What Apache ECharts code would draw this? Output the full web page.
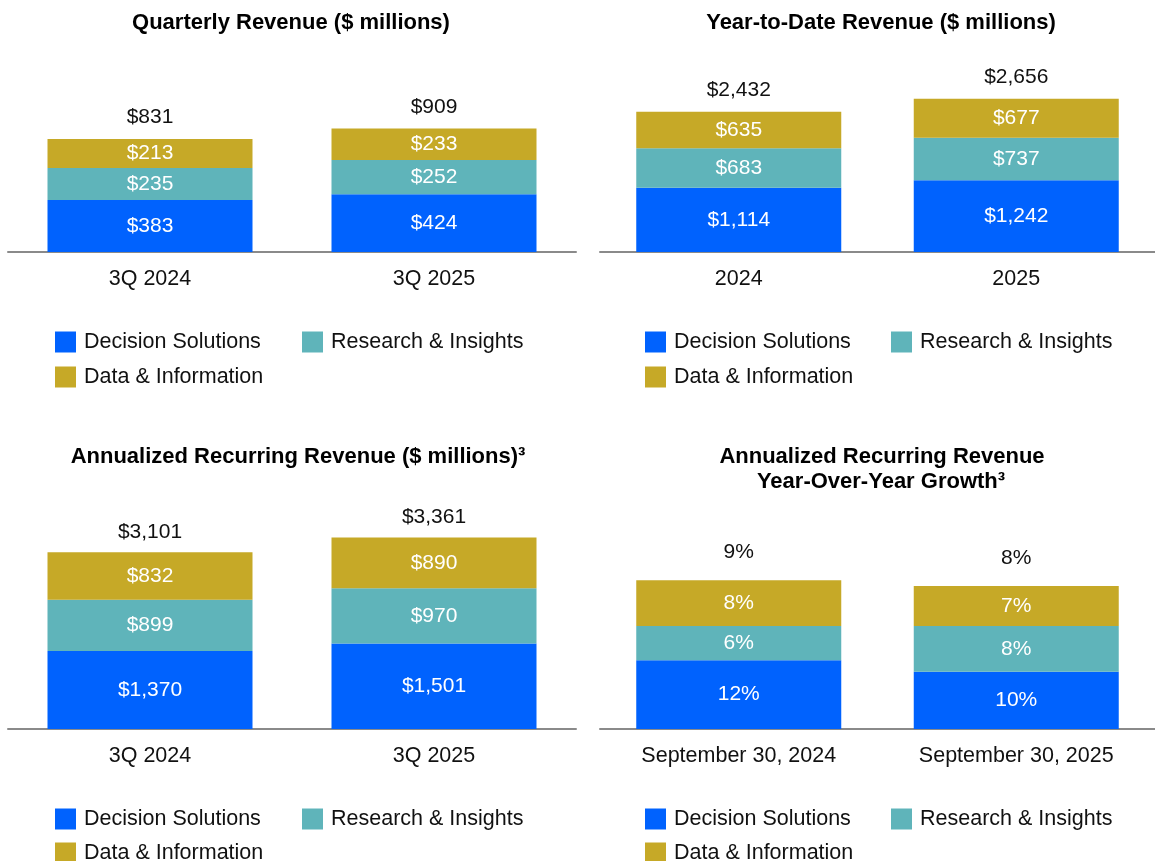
<!DOCTYPE html>
<html>
<head>
<meta charset="utf-8">
<script src="https://cdn.jsdelivr.net/npm/echarts@6/dist/echarts.min.js"></script>
<style>
  html, body { margin: 0; padding: 0; background: #fff; }
  #main { width: 1155px; height: 861px; }
</style>
</head>
<body>
<div id="main"></div>
<script>
// data
var segNames = ['Decision Solutions', 'Research & Insights', 'Data & Information'];

var quarterCats = ['3Q 2024', '3Q 2025'];
var quarterDS = [383, 424];
var quarterRI = [235, 252];
var quarterDI = [213, 233];
var quarterTotal = [831, 909];

var ytdCats = ['2024', '2025'];
var ytdDS = [1114, 1242];
var ytdRI = [683, 737];
var ytdDI = [635, 677];
var ytdTotal = [2432, 2656];

var arrCats = ['3Q 2024', '3Q 2025'];
var arrDS = [1370, 1501];
var arrRI = [899, 970];
var arrDI = [832, 890];
var arrTotal = [3101, 3361];

var growthCats = ['September 30, 2024', 'September 30, 2025'];
var growthDS = [12, 10];
var growthRI = [6, 8];
var growthDI = [8, 7];
var growthTotal = [9, 8];

var colors = ['#0062fe', '#5fb4ba', '#c6a927'];
var font = 'Liberation Sans, Arial, sans-serif';

function money(v) { return '$' + v.toLocaleString('en-US'); }
function pct(v) { return v + '%'; }

var panels = [
  { cats: quarterCats, segs: [quarterDS, quarterRI, quarterDI], total: quarterTotal, fmt: money,
    grid: { left: 8, width: 568, top: 48, height: 204 }, max: 1500, dist: 11,
    legX: [55, 302], legY: [331, 366] },
  { cats: ytdCats, segs: [ytdDS, ytdRI, ytdDI], total: ytdTotal, fmt: money,
    grid: { left: 600, width: 555, top: 50, height: 202 }, max: 3500, dist: 11,
    legX: [645, 891], legY: [331, 366] },
  { cats: arrCats, segs: [arrDS, arrRI, arrDI], total: arrTotal, fmt: money,
    grid: { left: 8, width: 568, top: 501, height: 228 }, max: 4000, dist: 10,
    legX: [55, 302], legY: [808, 842] },
  { cats: growthCats, segs: [growthDS, growthRI, growthDI], total: growthTotal, fmt: pct,
    grid: { left: 600, width: 555, top: 500, height: 229 }, max: 40, dist: 17,
    legX: [645, 891], legY: [808, 842] }
];

var grids = [], xAxes = [], yAxes = [], series = [], legends = [];

panels.forEach(function (p, i) {
  grids.push(p.grid);
  xAxes.push({
    type: 'category', gridIndex: i, data: p.cats,
    axisLine: { lineStyle: { color: '#8a8a8a', width: 2 } },
    axisTick: { show: false },
    axisLabel: { color: '#111', fontSize: 21.5, margin: 16, fontFamily: font }
  });
  yAxes.push({ type: 'value', gridIndex: i, min: 0, max: p.max, show: false });

  p.segs.forEach(function (vals, k) {
    series.push({
      type: 'bar', name: segNames[k], xAxisIndex: i, yAxisIndex: i, stack: 's' + i,
      barWidth: 205, data: vals,
      itemStyle: { color: colors[k] },
      label: {
        show: true, position: 'inside', color: '#fff', fontSize: 21, fontFamily: font,
        formatter: function (d) { return p.fmt(d.value); }
      },
      emphasis: { disabled: true }
    });
  });
  // invisible cap carrying the total label
  series.push({
    type: 'bar', name: 'Total', xAxisIndex: i, yAxisIndex: i, stack: 's' + i,
    barWidth: 205, data: p.total.map(function () { return 0; }),
    itemStyle: { color: 'rgba(0,0,0,0)' },
    label: {
      show: true, position: 'top', distance: p.dist, color: '#111', fontSize: 21, fontFamily: font,
      formatter: function (d) { return p.fmt(p.total[d.dataIndex]); }
    },
    emphasis: { disabled: true }
  });

  var legBase = {
    padding: 0, itemWidth: 21, itemHeight: 21, icon: 'rect', selectedMode: false,
    textStyle: { fontSize: 21.5, color: '#111', fontFamily: font, padding: [0, 0, 0, 3] }
  };
  legends.push(Object.assign({ data: [segNames[0]], left: p.legX[0], top: p.legY[0] }, legBase));
  legends.push(Object.assign({ data: [segNames[1]], left: p.legX[1], top: p.legY[0] }, legBase));
  legends.push(Object.assign({ data: [segNames[2]], left: p.legX[0], top: p.legY[1] }, legBase));
});

function titleText(txt, x, y) {
  return {
    type: 'text', x: x, y: y,
    style: {
      text: txt, fill: '#000', font: 'bold 22px ' + font,
      textAlign: 'center', textVerticalAlign: 'middle'
    }
  };
}

var chart = echarts.init(document.getElementById('main'));
chart.setOption({
  animation: false,
  textStyle: { fontFamily: font },
  grid: grids,
  xAxis: xAxes,
  yAxis: yAxes,
  legend: legends,
  series: series,
  graphic: [
    titleText('Quarterly Revenue ($ millions)', 291, 23),
    titleText('Year-to-Date Revenue ($ millions)', 881, 23),
    titleText('Annualized Recurring Revenue ($ millions)\u00b3', 298, 457),
    titleText('Annualized Recurring Revenue', 882, 457),
    titleText('Year-Over-Year Growth\u00b3', 881, 482)
  ]
});
</script>
</body>
</html>
